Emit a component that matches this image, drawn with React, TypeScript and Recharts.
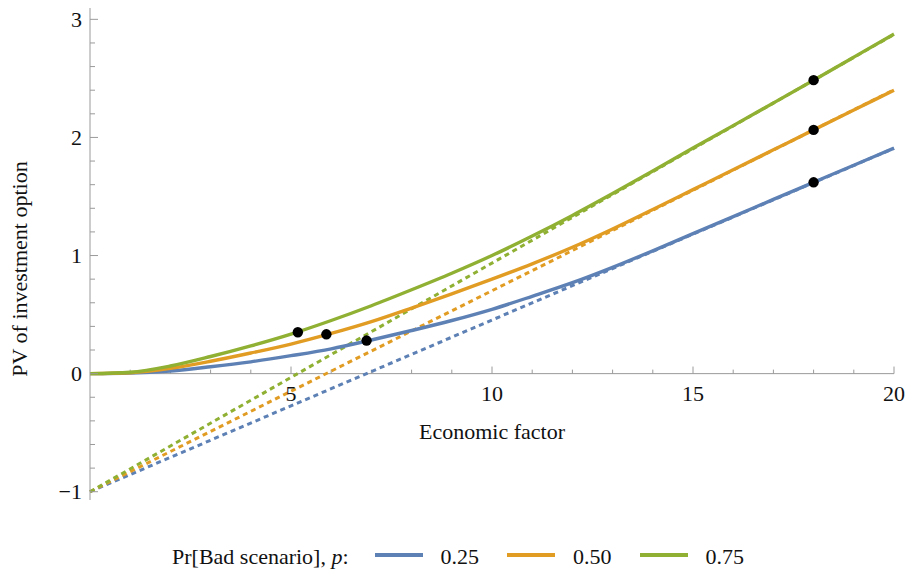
import { ComposedChart, Line, Scatter, XAxis, YAxis, ReferenceLine, ReferenceDot } from "recharts";

// economic factor grid for the option value curves
const X_VALUES = [0, 1, 2, 3, 4, 5, 6, 7, 8, 9, 10, 11, 12, 13, 14, 15, 16, 17, 18, 19, 20];

// PV of the investment option, one list per probability of the bad scenario
const PV_P25 = [0, 0.004, 0.022, 0.058, 0.1, 0.152, 0.21, 0.285, 0.365, 0.45, 0.545, 0.655, 0.77, 0.9, 1.04, 1.185, 1.33, 1.475, 1.62, 1.765, 1.91];
const PV_P50 = [0, 0.008, 0.045, 0.105, 0.175, 0.25, 0.34, 0.44, 0.555, 0.675, 0.8, 0.93, 1.07, 1.225, 1.39, 1.558, 1.726, 1.895, 2.064, 2.232, 2.4];
const PV_P75 = [0, 0.012, 0.065, 0.145, 0.235, 0.335, 0.45, 0.575, 0.71, 0.85, 1.0, 1.165, 1.34, 1.525, 1.715, 1.91, 2.1, 2.292, 2.485, 2.68, 2.876];

// invest-now NPV lines (dotted), given by their two end points
const NPV_X = [0, 20];
const NPV_START = [-1, -1, -1];
const NPV_END = [1.908, 2.404, 2.872];

// marked points: where NPV turns positive, and at factor 18
const ZERO_NPV_X = [6.88, 5.88, 5.17];
const ZERO_NPV_PV = [0.28, 0.333, 0.35];
const HIGH_X = 18;
const HIGH_PV = [1.62, 2.064, 2.485];

const P_LABELS = ["0.25", "0.50", "0.75"];
const COLORS = ["#5E81B5", "#E19C24", "#8FB032"];
const KEYS = ["p25", "p50", "p75"];

const X_MAJOR = [5, 10, 15, 20];
const X_MINOR = [1, 2, 3, 4, 6, 7, 8, 9, 11, 12, 13, 14, 16, 17, 18, 19];
const Y_TICKS = [-1, -0.8, -0.6, -0.4, -0.2, 0, 0.2, 0.4, 0.6, 0.8, 1, 1.2, 1.4, 1.6, 1.8, 2, 2.2, 2.4, 2.6, 2.8, 3];

const AXIS = "#9a9a9a";
const FONT = "'Liberation Serif', 'Times New Roman', serif";
const textStyle = { fontFamily: FONT, fontSize: 22 };

const table = X_VALUES.map((x, i) => ({ x, p25: PV_P25[i], p50: PV_P50[i], p75: PV_P75[i] }));
const npvLines = NPV_START.map((y0, i) => [
  { x: NPV_X[0], y: y0 },
  { x: NPV_X[1], y: NPV_END[i] },
]);
const markers = [
  ...ZERO_NPV_X.map((x, i) => ({ x, y: ZERO_NPV_PV[i] })),
  ...HIGH_PV.map((y) => ({ x: HIGH_X, y })),
];

const fmtY = (v: number) => (v < 0 ? `\u2212${Math.abs(v)}` : `${v}`);

// y ticks point into the plot, labels only on whole numbers
function YTick(props: any) {
  const { x, y, payload } = props;
  const v = payload.value;
  const major = Number.isInteger(v);
  return (
    <g>
      <line x1={x} x2={x + (major ? 8 : 5)} y1={y} y2={y} stroke={AXIS} strokeWidth={1} />
      {major && (
        <text x={x - 8} y={y + 7.4} textAnchor="end" style={textStyle} fill="#111">
          {fmtY(v)}
        </text>
      )}
    </g>
  );
}

function Legend() {
  return (
    <div
      style={{
        position: "absolute",
        left: 172,
        top: 546,
        display: "flex",
        alignItems: "center",
        fontFamily: FONT,
        fontSize: 22,
        lineHeight: "22px",
        color: "#111",
        whiteSpace: "nowrap",
      }}
    >
      <span style={{ marginRight: 26 }}>
        Pr[Bad scenario], <i>p</i>:
      </span>
      {P_LABELS.map((lab, i) => (
        <span key={lab} style={{ display: "flex", alignItems: "center" }}>
          <span style={{ width: 48, height: 3.4, background: COLORS[i], marginRight: 18, position: "relative", top: -2 }} />
          <span style={{ marginRight: i < 2 ? 28 : 0 }}>{lab}</span>
        </span>
      ))}
    </div>
  );
}

export default function App() {
  return (
    <div style={{ position: "absolute", left: 0, top: 0, width: 907, height: 574, background: "#fff" }}>
      <ComposedChart width={907} height={574} data={table} margin={{ top: 8, right: 13, bottom: 74, left: 89 }}>
        <XAxis type="number" dataKey="x" domain={[0, 20]} hide />
        <YAxis
          type="number"
          domain={[-1.07, 3.096]}
          ticks={Y_TICKS}
          interval={0}
          width={1}
          tickSize={0}
          tickMargin={0}
          tickLine={false}
          axisLine={{ stroke: AXIS, strokeWidth: 1 }}
          tick={(p: any) => <YTick {...p} />}
        />

        {/* x axis drawn along y = 0 */}
        <ReferenceLine y={0} stroke={AXIS} strokeWidth={1} />
        {X_MINOR.map((v) => (
          <ReferenceLine key={`mn${v}`} segment={[{ x: v, y: 0 }, { x: v, y: 0.034 }]} stroke={AXIS} strokeWidth={1} ifOverflow="visible" />
        ))}
        {X_MAJOR.map((v) => (
          <ReferenceLine key={`mj${v}`} segment={[{ x: v, y: 0 }, { x: v, y: 0.06 }]} stroke={AXIS} strokeWidth={1} ifOverflow="visible" />
        ))}
        {X_MAJOR.map((v) => (
          <ReferenceDot
            key={`lb${v}`}
            x={v}
            y={0}
            r={0}
            ifOverflow="visible"
            shape={(p: any) => (
              <text x={p.cx} y={p.cy + 27.5} textAnchor="middle" style={textStyle} fill="#111">
                {v}
              </text>
            )}
          />
        ))}

        {npvLines.map((d, i) => (
          <Line
            key={`npv${i}`}
            data={d}
            dataKey="y"
            type="linear"
            stroke={COLORS[i]}
            strokeWidth={3}
            strokeDasharray="5 4"
            dot={false}
            activeDot={false}
            isAnimationActive={false}
          />
        ))}
        {KEYS.map((k, i) => (
          <Line
            key={k}
            dataKey={k}
            type="monotone"
            stroke={COLORS[i]}
            strokeWidth={3.4}
            dot={false}
            activeDot={false}
            isAnimationActive={false}
          />
        ))}
        <Scatter data={markers} dataKey="y" fill="#000" shape={(p: any) => <circle cx={p.cx} cy={p.cy} r={5.2} fill="#000" />} isAnimationActive={false} />

        <text x={492} y={439} textAnchor="middle" style={textStyle} fill="#111">
          Economic factor
        </text>
        <text transform="translate(27, 269) rotate(-90)" textAnchor="middle" style={textStyle} fill="#111">
          PV of investment option
        </text>
      </ComposedChart>
      <Legend />
    </div>
  );
}
